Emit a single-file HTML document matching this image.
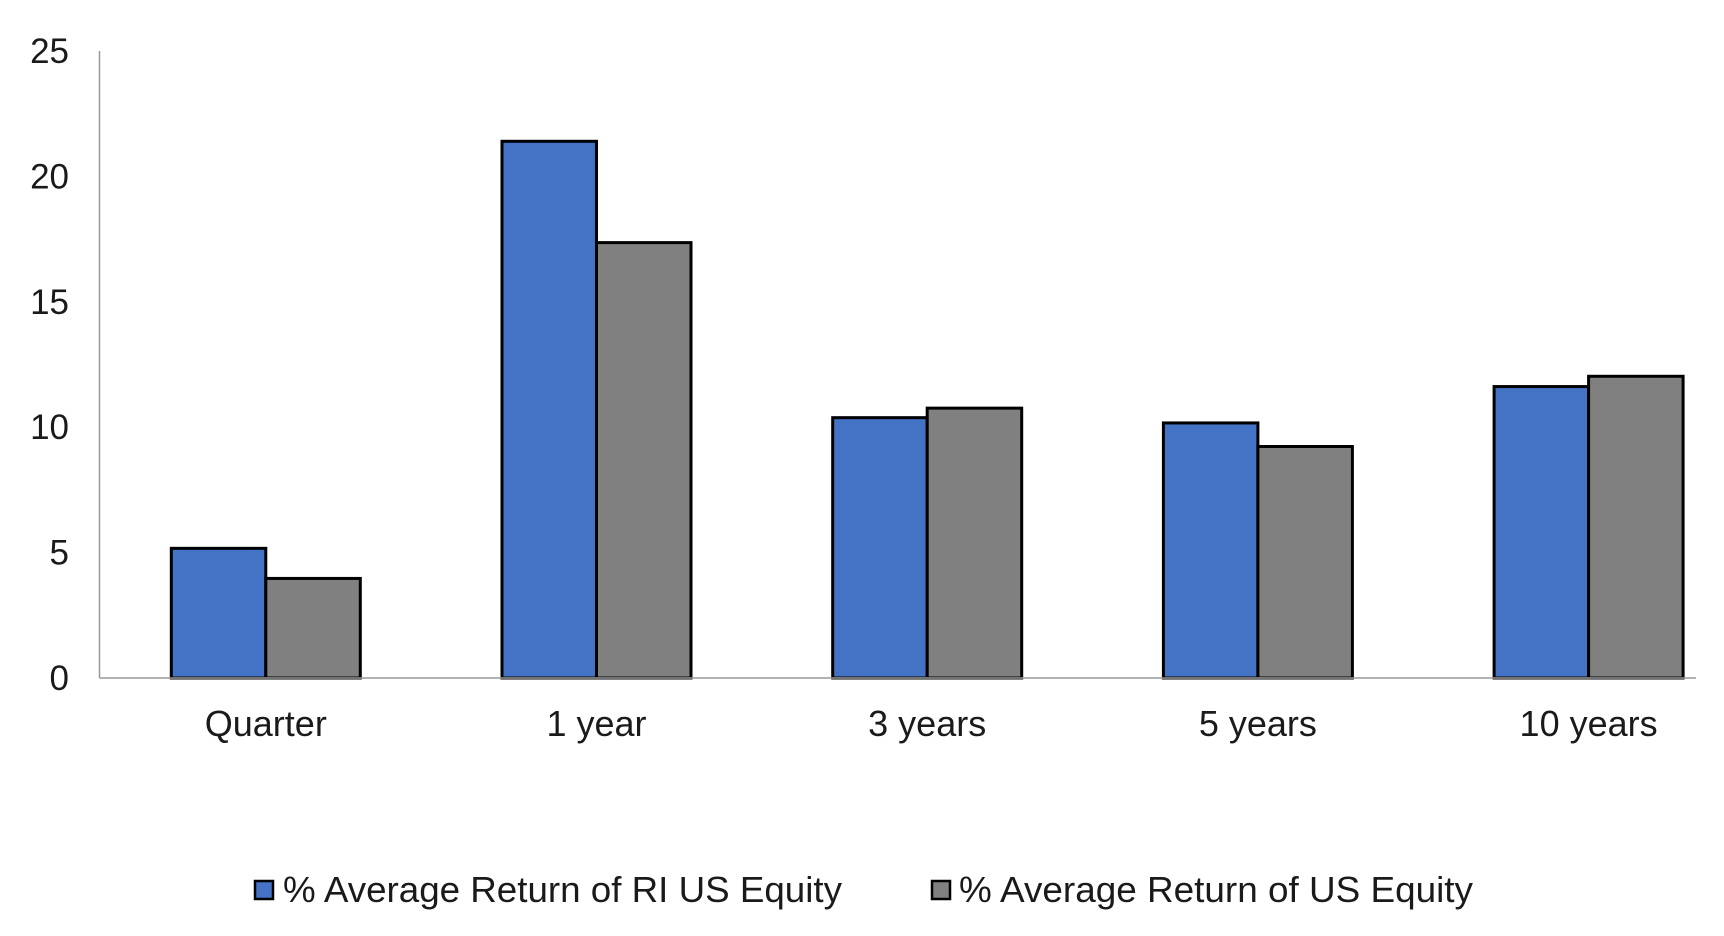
<!DOCTYPE html>
<html><head><meta charset="utf-8"><style>html,body{margin:0;padding:0;background:#fff}svg{display:block}text{font-family:"Liberation Sans",Arial,sans-serif;fill:#1a1a1a}</style></head>
<body>
<svg id="chart" width="1724" height="936" viewBox="0 0 1724 936" xmlns="http://www.w3.org/2000/svg"></svg>
<script>
const categories = ["Quarter", "1 year", "3 years", "5 years", "10 years"];
const riValues = [5.17, 21.4, 10.38, 10.17, 11.62];
const usValues = [3.97, 17.36, 10.76, 9.23, 12.03];
const yTicks = [0, 5, 10, 15, 20, 25];
const seriesNames = ["% Average Return of RI US Equity", "% Average Return of US Equity"];

const svg = document.getElementById('chart');
const NS = 'http://www.w3.org/2000/svg';
const x0 = 99.5, x1 = 1696, y0 = 678, yMax = 25, yTop = 51;
const firstCenter = 265.8, catW = 330.7;
const barW = 94.5;
function yScale(v) { return y0 - (v / yMax) * (y0 - yTop); }
function xCenter(i) { return firstCenter + catW * i; }
function mk(tag, attrs) { const e = document.createElementNS(NS, tag); for (const k in attrs) e.setAttribute(k, attrs[k]); svg.appendChild(e); return e; }

yTicks.forEach(t => {
  const e = mk('text', {x: 69, y: yScale(t) + 12, 'text-anchor': 'end', 'font-size': 35});
  e.textContent = t;
  
  
});
const ya = mk('line', {x1: x0, y1: yTop, x2: x0, y2: y0, stroke: '#999', 'stroke-width': 1.5});



const series = [[riValues, '#4472C4', 'bar-ri-us-equity'], [usValues, '#808080', 'bar-us-equity']];
categories.forEach((c, i) => {
  series.forEach((s, j) => {
    const v = s[0][i];
    const x = xCenter(i) - barW + j * barW;
    const r = mk('rect', {x: x, y: yScale(v), width: barW, height: y0 - yScale(v), fill: s[1], stroke: '#000', 'stroke-width': 3});
    
    
  });
  const t = mk('text', {x: xCenter(i), y: 736, 'text-anchor': 'middle', 'font-size': 36});
  t.textContent = c;
  
  
});
const xa = mk('line', {x1: x0, y1: y0, x2: x1, y2: y0, stroke: '#999', 'stroke-width': 1.5});



const legendPos = [[255, 283, 559], [932, 959, 514]];
seriesNames.forEach((n, j) => {
  const p = legendPos[j];
  const sq = mk('rect', {x: p[0], y: 881, width: 18, height: 18, fill: series[j][1], stroke: '#000', 'stroke-width': 2.5});
  
  
  const t = mk('text', {x: p[1], y: 902, 'font-size': 36, textLength: p[2], lengthAdjust: 'spacingAndGlyphs'});
  t.textContent = n;
  
  
});
</script>
</body></html>
